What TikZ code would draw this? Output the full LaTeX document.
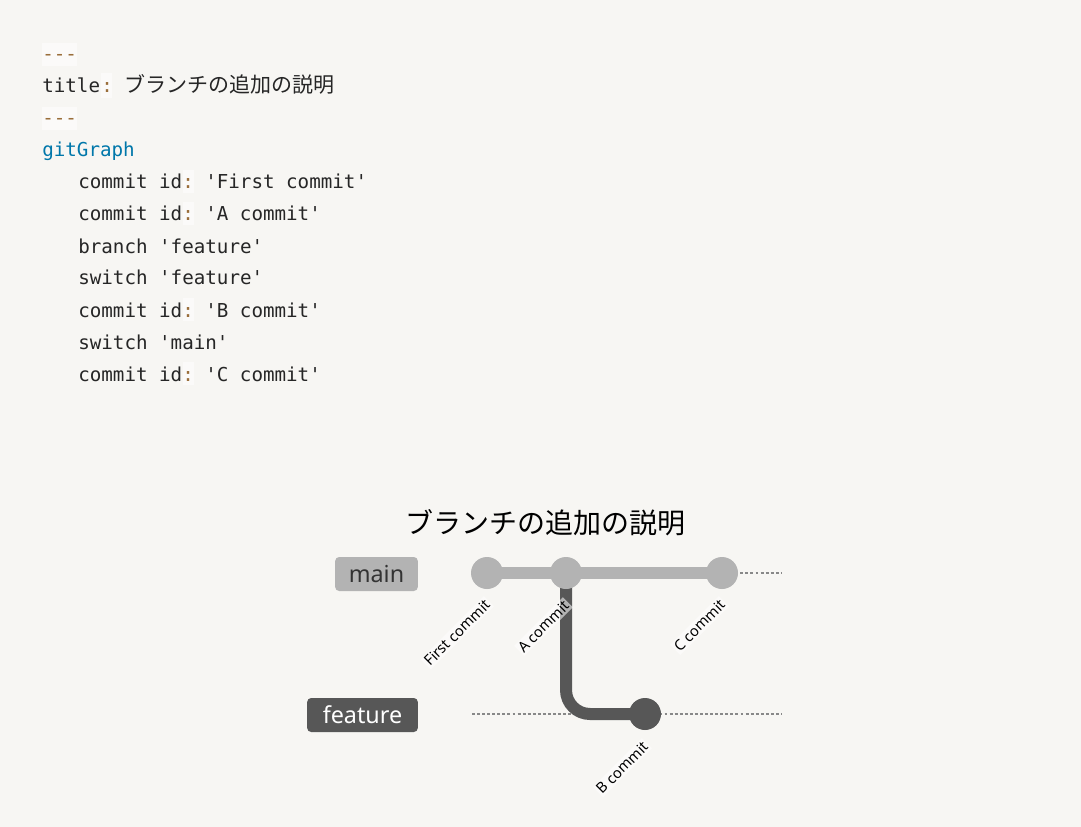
\documentclass[tikz,border=0pt]{standalone}
\usepackage{fontspec}
\setmainfont{Noto Sans}
\setmonofont{DejaVu Sans Mono}
\newfontfamily\cjk{Noto Sans CJK JP}
\definecolor{bgc}{HTML}{F7F6F3}
\definecolor{codec}{HTML}{262626}
\definecolor{punctc}{HTML}{9A6E3A}
\definecolor{kwc}{HTML}{0077AA}
\definecolor{mgray}{HTML}{B3B3B3}
\definecolor{fdark}{HTML}{575757}
\definecolor{dashgray}{HTML}{888888}
\definecolor{labc}{HTML}{333333}
\begin{document}
\begin{tikzpicture}[x=0.75pt,y=-0.75pt,
  code/.style={anchor=base west,inner sep=0pt,font=\ttfamily\fontsize{14.4}{17}\selectfont,text=codec},
  jp/.style={anchor=base west,inner sep=0pt,font=\cjk\fontsize{15.75}{18}\selectfont,text=codec},
  hl/.style={fill=white,fill opacity=0.55},
  commit/.style={circle,minimum size=24pt,inner sep=0pt,draw=none},
  blabel/.style={rounded corners=3pt,inner sep=0pt,minimum height=25.5pt,font=\fontsize{17.5}{20}\selectfont},
  clabel/.style={rotate=45,anchor=east,inner sep=1.2pt,font=\fontsize{11}{13}\selectfont,fill=white,fill opacity=0.55,text opacity=1},
  bline/.style={line width=9pt},
  dline/.style={dashed,dash pattern=on 2.2pt off 1.6pt,line width=0.8pt,draw=dashgray}
]
\fill[bgc] (0,0) rectangle (1081,827);
\useasboundingbox (0,0) rectangle (1081,827);

% code highlights
\fill[hl] (42,43) rectangle (77,66);
\fill[hl] (42,107) rectangle (77,130);
\fill[hl] (101,73) rectangle (112,98);
\foreach \b in {189,221,317,381}{\fill[hl] (183,\b-19) rectangle (194,\b+4);}

% code lines
\node[code,text=punctc] (l1) at (42,61) {-{}-{}-};
\node[code] (l2a) at (42,93) {title};
\node[code,text=punctc] (l2b) at (101,93) {:};
\node[jp] (l2c) at (124,93) {ブランチの追加の説明};
\node[code,text=punctc] (l3) at (42,125) {-{}-{}-};
\node[code,text=kwc] (l4) at (42,157) {gitGraph};
\node[code] (l5a) at (78,189) {commit id};
\node[code,text=punctc] (l5b) at (182,189) {:};
\node[code] (l5c) at (205,189) {'First commit'};
\node[code] (l6a) at (78,221) {commit id};
\node[code,text=punctc] (l6b) at (182,221) {:};
\node[code] (l6c) at (205,221) {'A commit'};
\node[code] (l7) at (78,253) {branch 'feature'};
\node[code] (l8) at (78,285) {switch 'feature'};
\node[code] (l9a) at (78,317) {commit id};
\node[code,text=punctc] (l9b) at (182,317) {:};
\node[code] (l9c) at (205,317) {'B commit'};
\node[code] (l10) at (78,349) {switch 'main'};
\node[code] (l11a) at (78,381) {commit id};
\node[code,text=punctc] (l11b) at (182,381) {:};
\node[code] (l11c) at (205,381) {'C commit'};

% diagram title
\node[font=\cjk\fontsize{21}{24}\selectfont,text=black,inner sep=0pt] (title) at (545,523) {ブランチの追加の説明};

% branch labels
\node[blabel,fill=mgray,text=labc,minimum width=62pt] (lmain) at (376.5,574) {main};
\node[blabel,fill=fdark,text=white,minimum width=83pt] (lfeat) at (362.5,715) {feature};

% coordinates
\coordinate (p1) at (487,573);
\coordinate (pA) at (566,573);
\coordinate (pC) at (722,573);
\coordinate (pB) at (645,714);
\coordinate (mstart) at (487,573);
\coordinate (mend) at (782,573);
\coordinate (fstart) at (472,714);
\coordinate (fend) at (782,714);

% dashed branch guides
\draw[dline] (mstart) -- (mend);
\draw[dline] (fstart) -- (fend);

% branch lines
\draw[bline,draw=fdark,rounded corners=18pt] (pA) |- (pB);
\draw[bline,draw=mgray] (p1) -- (pC);

% commits
\node[commit,fill=mgray] (c1) at (p1) {};
\node[commit,fill=mgray] (cA) at (pA) {};
\node[commit,fill=mgray] (cC) at (pC) {};
\node[commit,fill=fdark] (cB) at (pB) {};

% commit labels
\node[clabel] (t1) at (489,601) {First commit};
\node[clabel] (tA) at (568,602) {A commit};
\node[clabel] (tC) at (724,601) {C commit};
\node[clabel] (tB) at (647,743) {B commit};
\end{tikzpicture}
\end{document}
